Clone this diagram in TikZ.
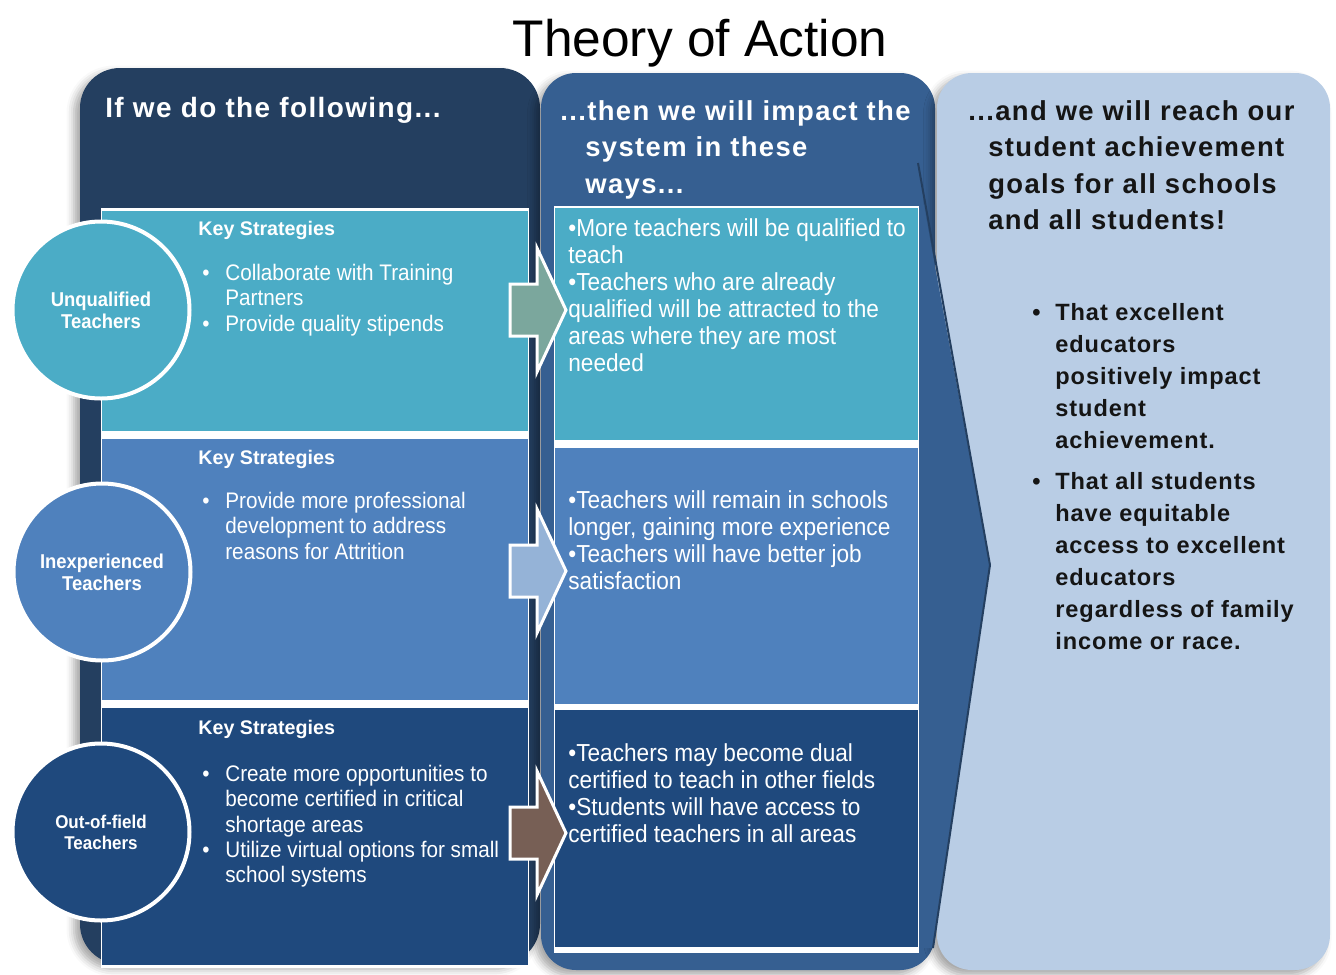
\documentclass[tikz,border=0pt]{standalone}
\usepackage{fontspec}
\setmainfont{Liberation Sans}
\newfontfamily\headfont[LetterSpace=5]{Liberation Sans}
\newfontfamily\goalfont[LetterSpace=4]{Liberation Sans}
\newfontfamily\narrowfont[FakeStretch=0.92]{Liberation Sans}
\usepackage{tikz}
\usetikzlibrary{positioning,shadows.blur}

\definecolor{panelL}{HTML}{243F60}
\definecolor{panelM}{HTML}{365F91}
\definecolor{panelR}{HTML}{B9CDE5}
\definecolor{rowA}{HTML}{4BACC6}
\definecolor{rowB}{HTML}{4F81BD}
\definecolor{rowC}{HTML}{1F497D}
\definecolor{arrA}{HTML}{7BA79D}
\definecolor{arrB}{HTML}{95B3D7}
\definecolor{arrC}{HTML}{775F55}
\definecolor{inkR}{HTML}{151515}

% bullet with hanging indent
\newcommand{\bul}{\makebox[4.6mm][l]{\textbullet}}
\newcommand{\ind}{\hspace*{4.6mm}}

\tikzset{
  panel/.style={rounded corners=7mm,
    blur shadow={shadow xshift=-1.2mm, shadow yshift=-1mm,
                 shadow blur radius=1.5mm, shadow opacity=35}},
  headtxt/.style={anchor=north west, inner sep=0, align=left,
    font=\headfont\bfseries\fontsize{15.6}{20.8}\selectfont},
  keyhead/.style={anchor=north west, inner sep=0, text=white,
    font=\bfseries\fontsize{11.2}{13}\selectfont},
  stratlist/.style={anchor=north west, inner sep=0, align=left, text=white,
    font=\narrowfont\fontsize{12.8}{14.4}\selectfont},
  impactlist/.style={anchor=north west, inner sep=0, align=left, text=white,
    font=\narrowfont\fontsize{14}{15.4}\selectfont},
  goallist/.style={anchor=north west, inner sep=0, align=left, text=inkR,
    font=\goalfont\bfseries\fontsize{13.4}{18.2}\selectfont},
  hub/.style={circle, draw=white, line width=0.8mm, minimum size=35.4mm,
    inner sep=0, align=center, text=white,
    font=\narrowfont\bfseries\fontsize{11.4}{12.5}\selectfont},
  blockarrow/.style={draw=white, line width=0.6mm, line join=miter},
}

\begin{document}
\begin{tikzpicture}[x=0.2mm,y=-0.2mm]
  \useasboundingbox (0,0) rectangle (1336,975);

  \node[font=\fontsize{29.3}{34}\selectfont, anchor=base] (title) at (700,56) {Theory of Action};

  % three columns
  \fill[panelL, panel, rounded corners=8mm] (80,68) rectangle (540,964);
  \fill[panelM, panel] (541,73) rectangle (935,970);
  \fill[panelR, panel] (937,73) rectangle (1330,970);

  % chevron into the goals column
  \fill[panelM] (916,163) -- (990,565) -- (933,948) -- (916,948) -- cycle;
  \draw[panelL, line width=0.4mm, line join=round] (918,163) -- (990,565) -- (933,948);

  % strategy rows
  \fill[white] (101,208) rectangle (529,968);
  \fill[rowA] (102,211) rectangle (528,431);
  \fill[rowB] (102,439) rectangle (528,700);
  \fill[rowC] (102,708) rectangle (528,965);

  % impact rows
  \fill[white] (554,206) rectangle (919,953);
  \fill[rowA] (555,208) rectangle (918,440);
  \fill[rowB] (555,448) rectangle (918,704);
  \fill[rowC] (555,710) rectangle (918,947);

  % block arrows between the columns
  \foreach \y/\c in {310/arrA, 571/arrB, 833/arrC}
    \filldraw[blockarrow, fill=\c] (510,\y-26) -- (537,\y-26) -- (537,\y-62)
      -- (566,\y) -- (537,\y+62) -- (537,\y+26) -- (510,\y+26) -- cycle;

  % teacher groups
  \node[hub, fill=rowA] (unq) at (101,310) {Unqualified\\Teachers};
  \node[hub, fill=rowB] (inexp) at (102,572) {Inexperienced\\Teachers};
  \node[hub, fill=rowC, font=\narrowfont\bfseries\fontsize{10.5}{12}\selectfont]
    (oof) at (101,832) {Out-of-field\\Teachers};

  % column headings
  \node[headtxt, text=white, font=\headfont\bfseries\fontsize{15.9}{20.8}\selectfont]
    (doH) at (105,97) {If we do the following...};
  \node[headtxt, text=white] (sysH) at (560,100)
    {...then we will impact the\\\hspace*{5mm}system in these\\\hspace*{5mm}ways...};
  \node[headtxt, text=inkR] (goalH) at (968,100)
    {...and we will reach our\\\hspace*{4mm}student achievement\\\hspace*{4mm}goals for all schools\\\hspace*{4mm}and all students!};

  % key strategies
  \node[keyhead] (ksA) at (198,221) {Key Strategies};
  \node[stratlist] (stA) at (202,264)
    {\bul Collaborate with Training\\\ind Partners\\\bul Provide quality stipends};
  \node[keyhead] (ksB) at (198,450) {Key Strategies};
  \node[stratlist] (stB) at (202,492)
    {\bul Provide more professional\\\ind development to address\\\ind reasons for Attrition};
  \node[keyhead] (ksC) at (198,720) {Key Strategies};
  \node[stratlist] (stC) at (202,765)
    {\bul Create more opportunities to\\\ind become certified in critical\\\ind shortage areas\\\bul Utilize virtual options for small\\\ind school systems};

  % impact on the system
  \node[impactlist] (imA) at (568,218)
    {•More teachers will be qualified to\\teach\\•Teachers who are already\\qualified will be attracted to the\\areas where they are most\\needed};
  \node[impactlist] (imB) at (568,490)
    {•Teachers will remain in schools\\longer, gaining more experience\\•Teachers will have better job\\satisfaction};
  \node[impactlist] (imC) at (568,743)
    {•Teachers may become dual\\certified to teach in other fields\\•Students will have access to\\certified teachers in all areas};

  % goals
  \node[goallist] (glA) at (1032,303)
    {\bul That excellent\\\ind educators\\\ind positively impact\\\ind student\\\ind achievement.};
  \node[goallist] (glB) at (1032,472)
    {\bul That all students\\\ind have equitable\\\ind access to excellent\\\ind educators\\\ind regardless of family\\\ind income or race.};
\end{tikzpicture}
\end{document}
